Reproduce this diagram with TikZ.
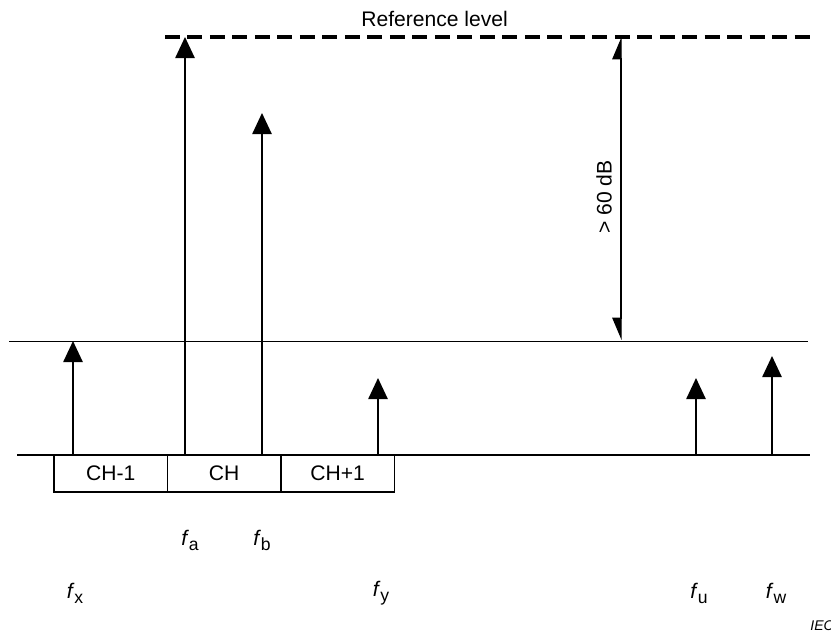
\documentclass[tikz,border=0pt]{standalone}
\usepackage{fontspec}
\setmainfont{Liberation Sans}
\usetikzlibrary{arrows.meta,positioning}

% frequency label: italic f with upright index
\newcommand{\fq}[1]{\textit{f}\raisebox{-0.45ex}{\fontsize{10}{12}\selectfont #1}}

\begin{document}
\begin{tikzpicture}[x=0.02cm, y=-0.02cm,
    every node/.style={font=\fontsize{12}{14}\selectfont, inner sep=0pt},
    tone/.style={line width=1pt, -{Triangle[width=11pt,length=12pt]}},
    chanbox/.style={draw, line width=0.8pt, outer sep=0pt, minimum width=2.27cm, minimum height=0.74cm}]
    \clip (0,0) rectangle (831,636);

    % levels
    \draw[line width=2.2pt, dash pattern=on 8.5pt off 4.3pt] (165,37) -- (810,37);
    \draw[line width=0.5pt] (9,341) -- (808,341);
    \draw[line width=1pt] (17,455) -- (810,455);
    \node[anchor=base west] (ref) at (361,26) {Reference level};

    % channels
    \node[chanbox, anchor=north west] (chm) at (54,455) {CH-1};
    \node[chanbox, right=0pt of chm] (ch) {CH};
    \node[chanbox, right=0pt of ch] (chp) {CH+1};

    % tones
    \coordinate (bx) at (73,455);   \coordinate (tx) at (73,341);
    \coordinate (ba) at (185,455);  \coordinate (ta) at (185,37);
    \coordinate (bb) at (262,455);  \coordinate (tb) at (262,113);
    \coordinate (by) at (378,455);  \coordinate (ty) at (378,378);
    \coordinate (bu) at (696,455);  \coordinate (tu) at (696,378);
    \coordinate (bw) at (772,455);  \coordinate (tw) at (772,356);
    \draw[tone] (bx) -- (tx);
    \draw[tone] (ba) -- (ta);
    \draw[tone] (bb) -- (tb);
    \draw[tone] (by) -- (ty);
    \draw[tone] (bu) -- (tu);
    \draw[tone] (bw) -- (tw);

    \node (fa) at (190,540) {\fq{a}};
    \node (fb) at (262,540) {\fq{b}};
    \node (fx) at (75,593) {\fq{x}};
    \node (fy) at (381,593) {\fq{y}};
    \node (fu) at (699,593) {\fq{u}};
    \node (fw) at (776,593) {\fq{w}};

    % range
    \coordinate (dtop) at (621,37);
    \coordinate (dbot) at (621,340);
    \draw[line width=0.6pt, {Triangle[harpoon,swap,width=10pt,length=12pt]}-{Triangle[harpoon,width=10pt,length=12pt]}] (dbot) -- (dtop);
    \node[rotate=90] (db) at (604,197) {> 60 dB};

    \node[anchor=base west, font=\fontsize{8}{10}\selectfont\itshape] (iec) at (810,630) {IEC};
\end{tikzpicture}
\end{document}
